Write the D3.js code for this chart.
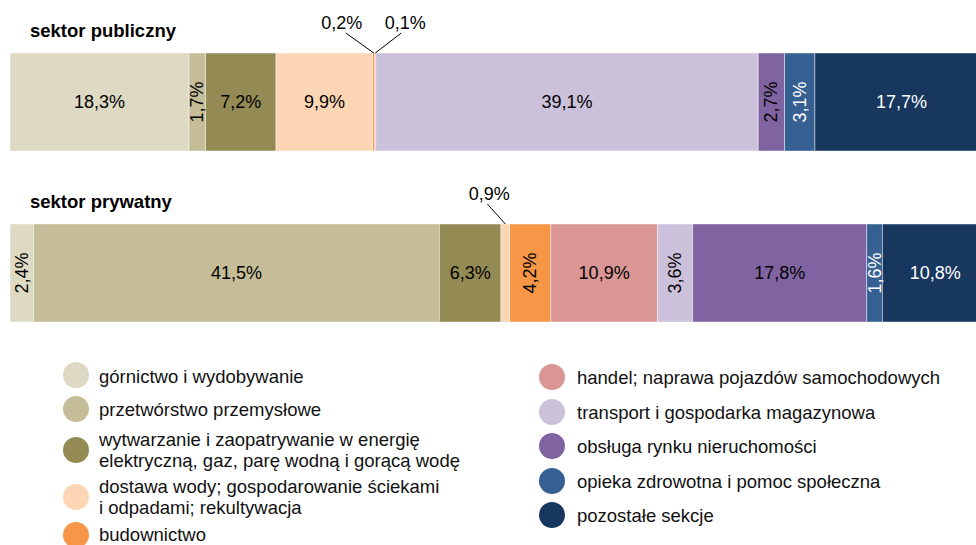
<!DOCTYPE html>
<html>
<head>
<meta charset="utf-8">
<script src="https://cdn.jsdelivr.net/npm/d3@7"></script>
<style>
  body { margin: 0; background: #fff; }
  text { font-family: "Liberation Sans", Arial, sans-serif; }
</style>
</head>
<body>
<div id="chart"></div>
<script>
// categories (sections)
var categories = [
  "górnictwo i wydobywanie",
  "przetwórstwo przemysłowe",
  "wytwarzanie i zaopatrywanie w energię|elektryczną, gaz, parę wodną i gorącą wodę",
  "dostawa wody; gospodarowanie ściekami|i odpadami; rekultywacja",
  "budownictwo",
  "handel; naprawa pojazdów samochodowych",
  "transport i gospodarka magazynowa",
  "obsługa rynku nieruchomości",
  "opieka zdrowotna i pomoc społeczna",
  "pozostałe sekcje"
];
var colors = ["#DDD9C3", "#C4BD97", "#948A54", "#FCD5B5", "#F79646",
              "#DA9694", "#CCC1DA", "#8064A2", "#366092", "#17375E"];
var sectors = ["sektor publiczny", "sektor prywatny"];
var publicValues  = [18.3, 1.7, 7.2, 9.9, 0.2, 0.1, 39.1, 2.7, 3.1, 17.7];
var privateValues = [2.4, 41.5, 6.3, 0.9, 4.2, 10.9, 3.6, 17.8, 1.6, 10.8];

var width = 976, height = 545;

var svg = d3.select("#chart")
  .append("svg")
    .attr("width", width)
    .attr("height", height);

// x scale: share in %, bar runs a bit past the right edge
var x = d3.scaleLinear().domain([0, 100]).range([10, 988]);
var y = d3.scaleBand().domain(sectors).range([53, 322]).paddingInner(0.427);

var color = d3.scaleOrdinal().domain(categories).range(colors);
var darkLabel = ["opieka zdrowotna i pomoc społeczna", "pozostałe sekcje"];

// leader-line labels for tiny segments (offsets from segment centre)
var leaders = {
  "sektor publiczny|4": {tx: -32, lx: -28},
  "sektor publiczny|5": {tx: 30, lx: 26},
  "sektor prywatny|3": {tx: -16, lx: -18}
};

function fmt(v) { return d3.format(".1f")(v).replace(".", ",") + "%"; }

[publicValues, privateValues].forEach(function(vals, si) {
  var sector = sectors[si];
  var cum = 0;
  var segs = vals.map(function(v, i) {
    var s = {cat: categories[i], v: v, x0: cum, x1: cum + v};
    cum += v;
    return s;
  });

  var g = svg.append("g");
  var top = y(sector), bh = y.bandwidth();

  // title
  g.append("text")
    .attr("x", 30)
    .attr("y", top - 16)
    .style("font-size", "18.5px")
    .style("font-weight", "bold")
    .text(sector);

  g.selectAll("rect")
    .data(segs)
    .enter()
    .append("rect")
      .attr("x", function(d) { return x(d.x0); })
      .attr("y", top)
      .attr("width", function(d) { return x(d.x1) - x(d.x0); })
      .attr("height", bh)
      .style("fill", function(d) { return color(d.cat); })
      .style("stroke", "rgba(255,255,255,0.55)")
      .style("stroke-width", 0.8);

  segs.forEach(function(d, i) {
    var cx = (x(d.x0) + x(d.x1)) / 2, cy = top + bh / 2;
    var fill = darkLabel.indexOf(d.cat) >= 0 ? "#fff" : "#000";
    if (d.v < 1) {
      var L = leaders[sector + "|" + i];
      g.append("line")
        .attr("x1", cx + L.lx).attr("y1", top - 20)
        .attr("x2", cx).attr("y2", top)
        .style("stroke", "#000")
        .style("stroke-width", 1);
      g.append("text")
        .attr("x", cx + L.tx)
        .attr("y", top - 24)
        .attr("text-anchor", "middle")
        .style("font-size", "18px")
        .text(fmt(d.v));
    } else if (d.v < 5) {
      g.append("text")
        .attr("transform", "translate(" + (cx + 6) + "," + cy + ") rotate(-90)")
        .attr("text-anchor", "middle")
        .style("font-size", "18px")
        .style("fill", fill)
        .text(fmt(d.v));
    } else {
      g.append("text")
        .attr("x", cx)
        .attr("y", cy + 6)
        .attr("text-anchor", "middle")
        .style("font-size", "18px")
        .style("fill", fill)
        .text(fmt(d.v));
    }
  });
});

// legend
var legendItems = [
  {col: 0, cy: 375, ty: [383]},
  {col: 0, cy: 409, ty: [416]},
  {col: 0, cy: 450, ty: [446, 467]},
  {col: 0, cy: 497, ty: [493, 514]},
  {col: 0, cy: 535, ty: [541]},
  {col: 1, cy: 377, ty: [384]},
  {col: 1, cy: 412, ty: [419]},
  {col: 1, cy: 446, ty: [453]},
  {col: 1, cy: 481, ty: [488]},
  {col: 1, cy: 515, ty: [522]}
];
var colX = [{c: 76, t: 99}, {c: 552, t: 577}];

var legend = svg.append("g");
categories.forEach(function(cat, i) {
  var it = legendItems[i], cx = colX[it.col];
  legend.append("circle")
    .attr("cx", cx.c)
    .attr("cy", it.cy)
    .attr("r", 13)
    .style("fill", color(cat));
  cat.split("|").forEach(function(line, j) {
    legend.append("text")
      .attr("x", cx.t)
      .attr("y", it.ty[j])
      .style("font-size", "18.5px")
      .style("fill", "#111")
      .text(line);
  });
});
</script>
</body>
</html>
